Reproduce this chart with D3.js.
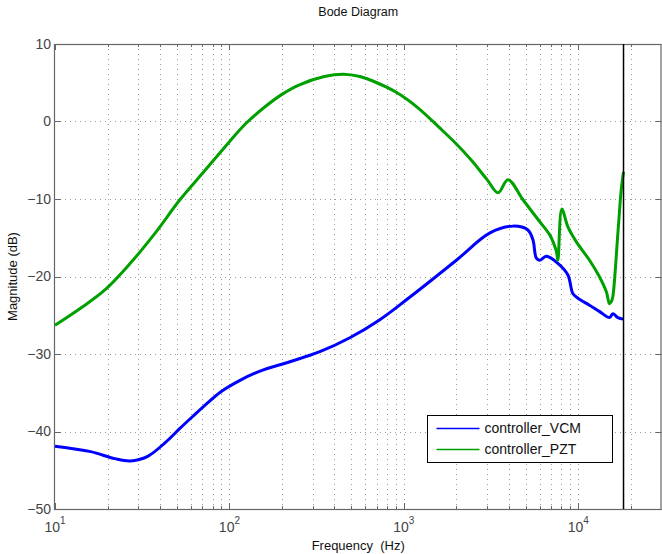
<!DOCTYPE html>
<html>
<head>
<meta charset="utf-8">
<script src="https://cdn.jsdelivr.net/npm/d3@7"></script>
<style>
  body { margin: 0; background: #fff; }
  svg { font-family: "Liberation Sans", Arial, sans-serif; }
</style>
</head>
<body>
<div class="figure"></div>
<script>
// data (frequency in Hz, magnitude in dB)
const vcmFreq = [10, 16, 22, 27, 34, 43, 52, 62, 71, 89, 115, 150, 222, 330, 490, 725, 1035, 2000, 3100, 4230, 5140, 5500, 5740, 6000, 6560, 7640, 8720, 9310, 9950, 11600, 13200, 15100, 15780, 16870, 18170];
const vcmMag  = [-41.9, -42.6, -43.5, -43.8, -43.2, -41.4, -39.6, -38.0, -36.8, -34.9, -33.4, -32.2, -31.0, -29.7, -27.9, -25.6, -23.0, -17.9, -14.4, -13.5, -14.0, -15.3, -17.6, -17.9, -17.4, -18.3, -19.8, -22.2, -22.8, -23.7, -24.5, -25.3, -24.8, -25.3, -25.5];

const pztFreq = [10, 14, 19.4, 27, 37.5, 52, 72.5, 100, 125, 160, 200, 250, 350, 450, 560, 700, 900, 1200, 1600, 2000, 2440, 3000, 3470, 3950, 4820, 6000, 6850, 7160, 7500, 7640, 8050, 8720, 9730, 11600, 13200, 14500, 15100, 15500, 15780, 16870, 17630, 18170];
const pztMag  = [-26.3, -24.1, -21.7, -18.3, -14.4, -10.1, -6.3, -2.6, -0.2, 1.9, 3.5, 4.7, 5.8, 6.1, 5.8, 5.0, 3.8, 1.8, -0.8, -2.9, -5.0, -7.5, -9.2, -7.5, -10.1, -12.9, -14.6, -15.5, -16.8, -17.9, -11.3, -13.6, -15.5, -17.9, -20.0, -22.0, -23.5, -23.2, -22.6, -14.4, -8.8, -6.5];

const seriesNames = ['controller_VCM', 'controller_PZT'];
const seriesColors = ['#0000ff', '#00a000'];
const yTicks = [10, 0, -10, -20, -30, -40, -50];
const xDecades = [10, 100, 1000, 10000];
const nyquist = 18170;

const width = 662, height = 554;
const margin = {top: 44, right: 0.5, bottom: 45, left: 55};

const svg = d3.select('.figure').append('svg')
  .attr('width', width)
  .attr('height', height);

const x = d3.scaleLog()
  .domain([10, 30000])
  .range([margin.left, width - margin.right]);
const y = d3.scaleLinear()
  .domain([-50, 10])
  .range([height - margin.bottom, margin.top]);

const x0 = x.range()[0], x1 = x.range()[1];
const y0 = y.range()[0], y1 = y.range()[1];

// minor frequency positions (2..9 of every decade)
const minorFreqs = [];
xDecades.forEach(d => {
  for (let k = 2; k <= 9; k++) {
    if (d * k <= 30000) minorFreqs.push(d * k);
  }
});

// grid
const grid = svg.append('g').attr('stroke', '#9a9a9a').attr('stroke-width', 1)
  .attr('stroke-dasharray', '1,4');
grid.selectAll('.vg')
  .data(xDecades.slice(1).concat(minorFreqs))
  .enter().append('line')
    .attr('x1', d => Math.round(x(d)) + 0.5)
    .attr('x2', d => Math.round(x(d)) + 0.5)
    .attr('y1', y1)
    .attr('y2', y0);
grid.selectAll('.hg')
  .data(yTicks.slice(1, -1))
  .enter().append('line')
    .attr('x1', x0)
    .attr('x2', x1)
    .attr('y1', d => Math.round(y(d)) + 0.5)
    .attr('y2', d => Math.round(y(d)) + 0.5);

// ticks inside the box
const ticks = svg.append('g').attr('stroke', '#666').attr('stroke-width', 1);
xDecades.concat(minorFreqs).forEach(f => {
  const len = xDecades.includes(f) ? 6 : 3;
  const px = Math.round(x(f)) + 0.5;
  ticks.append('line').attr('x1', px).attr('x2', px).attr('y1', y0).attr('y2', y0 - len);
  ticks.append('line').attr('x1', px).attr('x2', px).attr('y1', y1).attr('y2', y1 + len);
});
yTicks.forEach(v => {
  const py = Math.round(y(v)) + 0.5;
  ticks.append('line').attr('x1', x0).attr('x2', x0 + 6).attr('y1', py).attr('y2', py);
  ticks.append('line').attr('x1', x1).attr('x2', x1 - 6).attr('y1', py).attr('y2', py);
});

// box
svg.append('rect')
  .attr('x', x0 - 0.5)
  .attr('y', y1 + 0.5)
  .attr('width', x1 - x0)
  .attr('height', y0 - y1)
  .attr('fill', 'none')
  .attr('stroke', '#666')
  .attr('stroke-width', 1.2);

// y tick labels
svg.append('g').selectAll('text')
  .data(yTicks)
  .enter().append('text')
    .attr('x', x0 - 4)
    .attr('y', d => y(d))
    .attr('dy', '0.35em')
    .attr('text-anchor', 'end')
    .attr('font-size', 14)
    .attr('fill', '#444')
    .text(d => d < 0 ? '\u2212' + Math.abs(d) : d);

// x tick labels 10^n
const xl = svg.append('g').selectAll('text')
  .data(xDecades)
  .enter().append('text')
    .attr('x', d => x(d))
    .attr('y', y0 + 23)
    .attr('text-anchor', 'middle')
    .attr('font-size', 14)
    .attr('fill', '#444');
xl.append('tspan').text('10');
xl.append('tspan')
  .attr('dy', -8)
  .attr('font-size', 10)
  .text(d => Math.round(Math.log10(d)));

// curves
const line = d3.line()
  .x(d => x(d[0]))
  .y(d => y(d[1]))
  .curve(d3.curveCatmullRom.alpha(0.5));

const vcm = vcmFreq.map((f, i) => [f, vcmMag[i]]);
const pzt = pztFreq.map((f, i) => [f, pztMag[i]]);

[vcm, pzt].forEach((data, i) => {
  svg.append('path')
    .datum(data)
    .attr('fill', 'none')
    .attr('stroke', seriesColors[i])
    .attr('stroke-width', 3)
    .attr('stroke-linejoin', 'round')
    .attr('d', line);
});

// nyquist line
svg.append('line')
  .attr('x1', x(nyquist)).attr('x2', x(nyquist))
  .attr('y1', y1).attr('y2', y0)
  .attr('stroke', '#000')
  .attr('stroke-width', 1.5);

// title and axis labels
svg.append('text')
  .attr('x', (x0 + x1) / 2)
  .attr('y', 16)
  .attr('text-anchor', 'middle')
  .attr('font-size', 12.5)
  .attr('fill', '#111')
  .text('Bode Diagram');

svg.append('text')
  .attr('x', (x0 + x1) / 2)
  .attr('y', 550)
  .attr('text-anchor', 'middle')
  .attr('font-size', 13)
  .attr('fill', '#111')
  .attr('xml:space', 'preserve')
  .style('white-space', 'pre')
  .text('Frequency  (Hz)');

svg.append('text')
  .attr('transform', `translate(17, ${(y0 + y1) / 2}) rotate(-90)`)
  .attr('text-anchor', 'middle')
  .attr('font-size', 13)
  .attr('fill', '#111')
  .text('Magnitude (dB)');

// legend
const legend = svg.append('g').attr('transform', 'translate(427.5, 415.5)');
legend.append('rect')
  .attr('width', 185)
  .attr('height', 47)
  .attr('fill', '#fff')
  .attr('stroke', '#000')
  .attr('stroke-width', 1);
const items = legend.selectAll('.item')
  .data(seriesNames)
  .enter().append('g')
    .attr('transform', (d, i) => `translate(0, ${13 + i * 21})`);
items.append('line')
  .attr('x1', 9).attr('x2', 52)
  .attr('stroke', (d, i) => seriesColors[i])
  .attr('stroke-width', 1.5);
items.append('text')
  .attr('x', 57)
  .attr('dy', '0.35em')
  .attr('font-size', 14)
  .attr('fill', '#111')
  .text(d => d);
</script>
</body>
</html>
